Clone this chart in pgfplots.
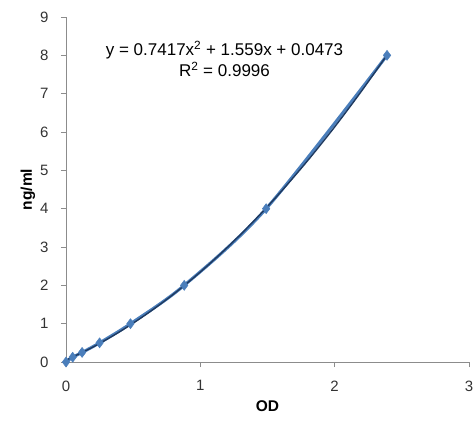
\documentclass[border=0pt]{standalone}
\usepackage{pgfplots}
\pgfplotsset{compat=1.18}
\usepackage{fontspec}
\setmainfont{Liberation Sans}
\definecolor{serblue}{HTML}{4A7EBB}
\definecolor{trendnavy}{HTML}{1F3A60}
\definecolor{axgray}{HTML}{8C8C8C}
\definecolor{txtgray}{HTML}{333333}
% standards (OD, ng/ml)
\pgfplotstableread{
od    conc
0     0
0.05  0.125
0.12  0.25
0.25  0.5
0.48  1
0.88  2
1.49  4
2.39  8
}\standard
% polynomial trend line, read at a few OD values
\pgfplotstableread{
od    conc
0     0.047
0.2   0.389
0.4   0.790
0.6   1.250
0.8   1.769
1.0   2.348
1.2   2.986
1.4   3.684
1.6   4.441
1.8   5.257
2.0   6.132
2.2   7.067
2.39  8.010
}\trend
\begin{document}
\begin{tikzpicture}
\begin{axis}[
    scale only axis,
    width=403pt, height=345pt,
    xmin=0, xmax=3, ymin=0, ymax=9,
    xtick={0,1,2,3}, ytick={0,1,...,9},
    axis lines=left,
    axis line style={axgray, line width=0.9pt, -},
    tick style={axgray, line width=0.8pt},
    tick align=outside,
    major tick length=5pt,
    ticklabel style={font=\fontsize{15}{17}\selectfont, text=txtgray},
    /pgf/number format/assume math mode=true,
    xticklabel style={yshift=-10pt},
    yticklabel style={xshift=-9pt},
    xlabel={\textbf{OD}},
    ylabel={\textbf{ng/ml}},
    label style={font=\fontsize{15.5}{17}\selectfont, text=black},
    xlabel style={yshift=-3pt},
    ylabel style={yshift=-2pt},
    clip=false,
]
\addplot[serblue, line width=3pt, smooth] table[x=od, y=conc] {\standard};
\addplot[trendnavy, line width=1.4pt, smooth] table[x=od, y=conc] {\trend};
\addplot[only marks, mark=diamond*, mark size=5pt,
         mark options={fill=serblue, draw=serblue, line width=0.5pt}]
    table[x=od, y=conc] {\standard};
\node[font=\fontsize{17}{21}\selectfont, align=center, text=black]
    at (axis cs:1.18,7.9) {y = 0.7417x\textsuperscript{2} + 1.559x + 0.0473\\R\textsuperscript{2} = 0.9996};
\end{axis}
\pgfresetboundingbox
\path (-66pt,-61pt) rectangle (410pt,362pt);
\end{tikzpicture}
\end{document}
